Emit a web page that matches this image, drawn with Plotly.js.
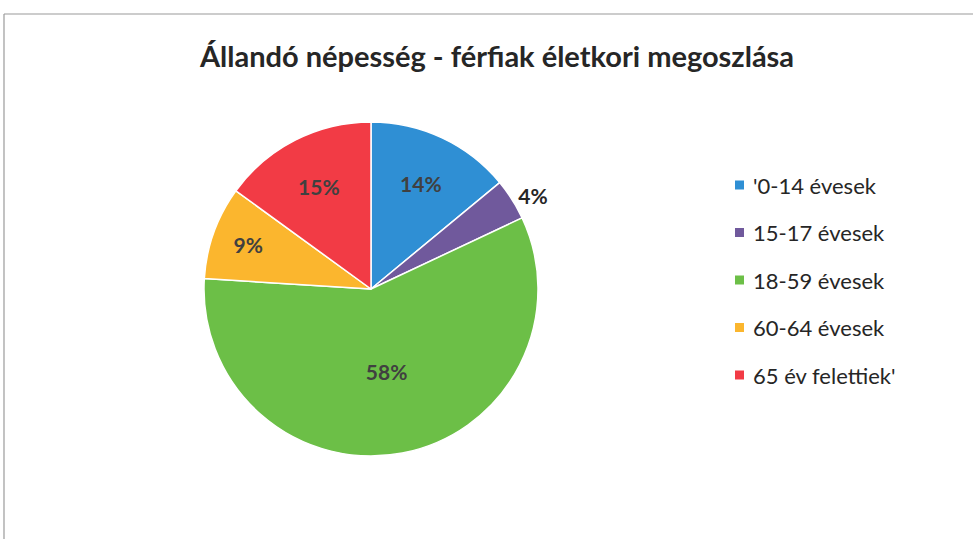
<!DOCTYPE html>
<html lang="hu">
    <head>
        <meta charset="UTF-8">
        <title>Állandó népesség - férfiak életkori megoszlása</title>
        <script src="https://cdn.plot.ly/plotly-3.0.1.min.js"></script>
        <style>
            html, body { margin: 0; padding: 0; background: #fff; }
            #plot { width: 973px; height: 539px; }
            text { font-variant-ligatures: none; }
        </style>
    </head>
    <body>

        <div id="plot"></div>

        <script>
        // Data (percent of male population by age group)
        const labels = ["'0-14 évesek", "15-17 évesek", "18-59 évesek", "60-64 évesek", "65 év felettiek'"];
        const values = [14, 4, 58, 9, 15];
        const colors = ['#2f8fd4', '#70599c', '#6cbf47', '#fbb62e', '#f23b45'];
        const textPos = ['inside', 'outside', 'inside', 'inside', 'inside'];

        const W = 973, H = 539;

        const trace = {
            type: 'pie',
            labels: labels,
            values: values,
            sort: false,
            direction: 'clockwise',
            rotation: 0,
            marker: { colors: colors, line: { color: '#ffffff', width: 1.5 } },
            texttemplate: '%{percent:.0%}',
            textposition: textPos,
            insidetextorientation: 'horizontal',
            textfont: { family: 'Lato, sans-serif', size: 21, color: '#404040', weight: 'bold' },
            outsidetextfont: { family: 'Lato, sans-serif', size: 21, color: '#262626', weight: 'bold' },
            domain: { x: [(371 - 167) / W, (371 + 167) / W], y: [(250 - 167) / H, (250 + 167) / H] },
            showlegend: false,
            hoverinfo: 'label+percent'
        };

        // Legend built from the same arrays
        const annotations = [];
        const shapes = [
            // chart frame (top and left edges visible)
            { type: 'line', xref: 'paper', yref: 'paper', x0: 4 / W, x1: 1, y0: 1 - 14 / H, y1: 1 - 14 / H, line: { color: '#9a9a9a', width: 1.2 } },
            { type: 'line', xref: 'paper', yref: 'paper', x0: 4 / W, x1: 4 / W, y0: 0, y1: 1 - 14 / H, line: { color: '#9a9a9a', width: 1.2 } }
        ];
        labels.forEach((lab, i) => {
            const yc = 1 - (185 + i * 47.5) / H;
            shapes.push({
                type: 'rect', xref: 'paper', yref: 'paper',
                x0: 735 / W, x1: 744 / W, y0: yc - 4.5 / H, y1: yc + 4.5 / H,
                fillcolor: colors[i], line: { width: 0 }
            });
            annotations.push({
                xref: 'paper', yref: 'paper', x: 751 / W, y: yc,
                xanchor: 'left', yanchor: 'middle', showarrow: false,
                text: lab, font: { family: 'Lato, sans-serif', size: 22, color: '#262626' }
            });
        });

        const layout = {
            width: W,
            height: H,
            margin: { l: 0, r: 0, t: 0, b: 0 },
            paper_bgcolor: '#ffffff',
            title: {
                text: 'Állandó népesség - férfiak életkori megoszlása',
                font: { family: 'Lato, sans-serif', size: 29, color: '#262626', weight: 'bold' },
                x: 497 / W, xanchor: 'center',
                y: 1 - 57 / H, yanchor: 'middle'
            },
            shapes: shapes,
            annotations: annotations
        };

        Plotly.newPlot('plot', [trace], layout, { displayModeBar: false, staticPlot: true });
        </script>

    </body>
</html>
